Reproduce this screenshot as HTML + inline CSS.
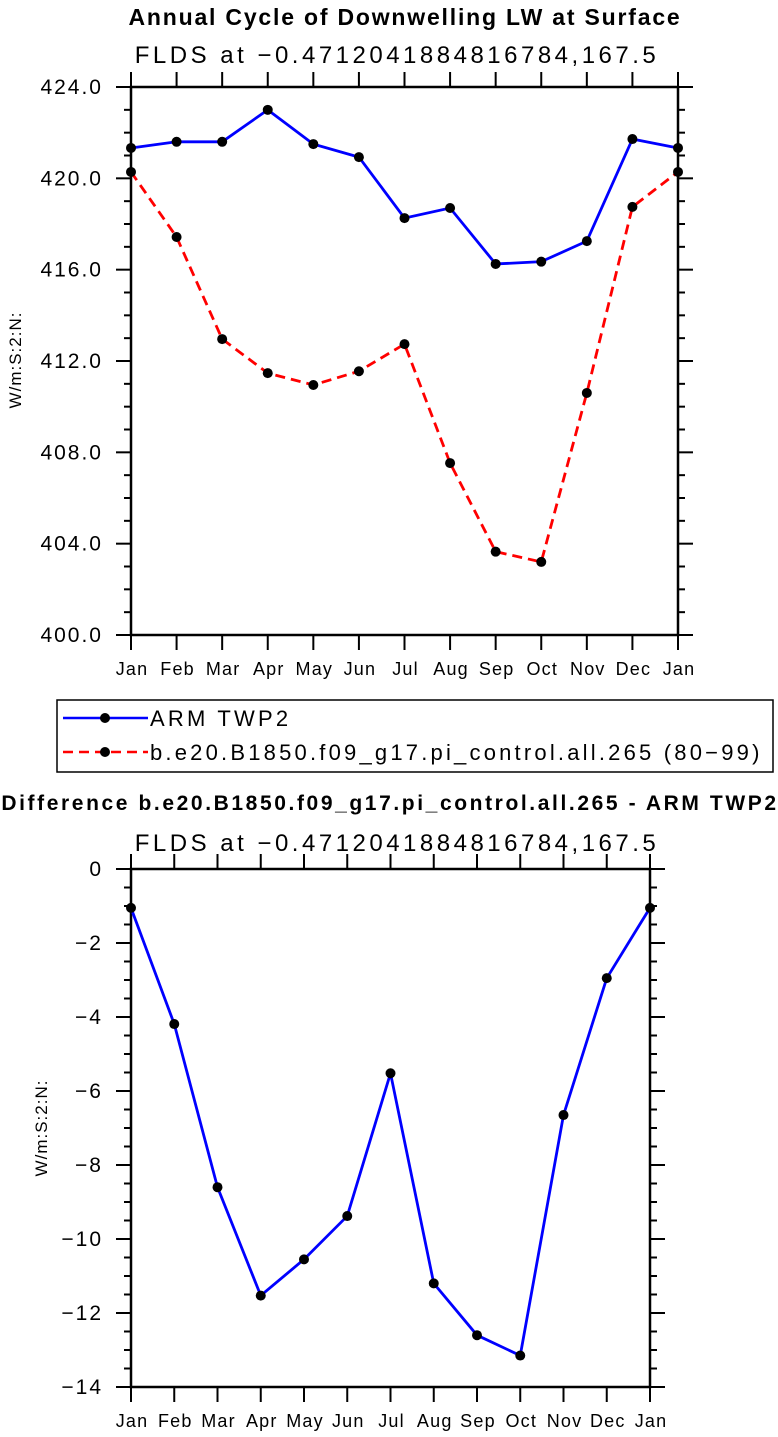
<!DOCTYPE html>
<html><head><meta charset="utf-8"><style>
html,body{margin:0;padding:0;background:#fff;width:778px;height:1437px;overflow:hidden}
svg text{font-family:"Liberation Sans",sans-serif;fill:#000}
</style></head><body>
<svg id="chart" width="778" height="1437" xmlns="http://www.w3.org/2000/svg">
<text x="405" y="25" font-size="23" font-weight="bold" text-anchor="middle" letter-spacing="1.8">Annual Cycle of Downwelling LW at Surface</text>
<text x="397" y="63" font-size="24" text-anchor="middle" letter-spacing="3.5">FLDS at −0.4712041884816784,167.5</text>
<text transform="translate(21,360) rotate(-90)" font-size="17" text-anchor="middle" letter-spacing="1">W/m:S:2:N:</text>
<g id="top"></g>
<g>
<rect x="57" y="700" width="716" height="72" fill="none" stroke="#000" stroke-width="1.5"/>
<line x1="63" y1="718" x2="148" y2="718" stroke="#0000ff" stroke-width="2.5"/>
<circle cx="105" cy="718" r="5" fill="#000"/>
<text x="150" y="726" font-size="22" letter-spacing="3.2">ARM TWP2</text>
<line x1="63" y1="752" x2="148" y2="752" stroke="#ff0000" stroke-width="2.5" stroke-dasharray="10,6"/>
<circle cx="105" cy="752" r="5" fill="#000"/>
<text x="150" y="760" font-size="22" letter-spacing="3.2">b.e20.B1850.f09_g17.pi_control.all.265 (80−99)</text>
</g>
<text x="390" y="810" font-size="21" font-weight="bold" text-anchor="middle" letter-spacing="2.6">Difference b.e20.B1850.f09_g17.pi_control.all.265 - ARM TWP2</text>
<text x="397" y="851" font-size="24" text-anchor="middle" letter-spacing="3.5">FLDS at −0.4712041884816784,167.5</text>
<text transform="translate(47,1128) rotate(-90)" font-size="17" text-anchor="middle" letter-spacing="1">W/m:S:2:N:</text>
<g id="bot"></g>
</svg>
<script>
const months = ["Jan","Feb","Mar","Apr","May","Jun","Jul","Aug","Sep","Oct","Nov","Dec","Jan"];
const armValues = [421.33,421.6,421.6,423.0,421.5,420.93,418.26,418.7,416.25,416.35,417.25,421.72,421.33];
const modelValues = [420.28,417.43,412.96,411.47,410.95,411.55,412.74,407.53,403.65,403.2,410.6,418.75,420.28];
const diffValues = [-1.05,-4.19,-8.6,-11.53,-10.55,-9.38,-5.52,-11.2,-12.6,-13.15,-6.65,-2.95,-1.05];
const topTicks = [400,404,408,412,416,420,424];
const topTickLabels = ["400.0","404.0","408.0","412.0","416.0","420.0","424.0"];
const botTicks = [-14,-12,-10,-8,-6,-4,-2,0];
const botTickLabels = ["−14","−12","−10","−8","−6","−4","−2","0"];
const NS="http://www.w3.org/2000/svg";
function mk(p,t,a){const e=document.createElementNS(NS,t);for(const k in a)e.setAttribute(k,a[k]);p.appendChild(e);return e;}
function plot(g,cfg){
  const {x0,x1,y0,y1,vmin,vmax,minorStep,ticks,labels,series}=cfg;
  const xs=i=>x0+(x1-x0)*i/(months.length-1);
  const ys=v=>y1-(y1-y0)*(v-vmin)/(vmax-vmin);
  const fr=mk(g,'rect',{x:x0,y:y0,width:x1-x0,height:y1-y0,fill:'none',stroke:'#000','stroke-width':2.5});
  
  
  for(let v=vmin;v<=vmax+1e-9;v+=minorStep){
    const major=ticks.some(t=>Math.abs(t-v)<1e-6);const L=major?15:7;
    mk(g,'line',{x1:x0-L,x2:x0,y1:ys(v),y2:ys(v),stroke:'#000','stroke-width':2});
    mk(g,'line',{x1:x1,x2:x1+L,y1:ys(v),y2:ys(v),stroke:'#000','stroke-width':2});
  }
  ticks.forEach((t,i)=>{
    const tx=mk(g,'text',{x:x0-28,y:ys(t)+7,'font-size':21,'text-anchor':'end','letter-spacing':2});
    tx.textContent=labels[i];
    
    
  });
  months.forEach((m,i)=>{
    mk(g,'line',{x1:xs(i),x2:xs(i),y1:y1,y2:y1+15,stroke:'#000','stroke-width':2});
    mk(g,'line',{x1:xs(i),x2:xs(i),y1:y0-15,y2:y0,stroke:'#000','stroke-width':2});
    const tx=mk(g,'text',{x:xs(i)+1,y:y1+40,'font-size':18,'text-anchor':'middle','letter-spacing':1.2});
    tx.textContent=m;
    
    
  });
  series.forEach(s=>{
    const pl=mk(g,'polyline',{points:s.vals.map((v,i)=>xs(i)+','+ys(v)).join(' '),fill:'none',stroke:s.color,'stroke-width':2.8,'stroke-dasharray':s.dash||'none'});
    
    
    s.vals.forEach((v,i)=>{
      const c=mk(g,'circle',{cx:xs(i),cy:ys(v),r:5,fill:'#000'});
      
      
    });
  });
}
plot(document.getElementById('top'),{x0:131,x1:678,y0:87,y1:635,vmin:400,vmax:424,minorStep:1,ticks:topTicks,labels:topTickLabels,
  series:[{name:'arm',vals:armValues,color:'#0000ff'},{name:'model',vals:modelValues,color:'#ff0000',dash:'10,6'}]});
plot(document.getElementById('bot'),{x0:131,x1:650,y0:869,y1:1387,vmin:-14,vmax:0,minorStep:0.5,ticks:botTicks,labels:botTickLabels,
  series:[{name:'diff',vals:diffValues,color:'#0000ff'}]});
</script>
</body></html>
